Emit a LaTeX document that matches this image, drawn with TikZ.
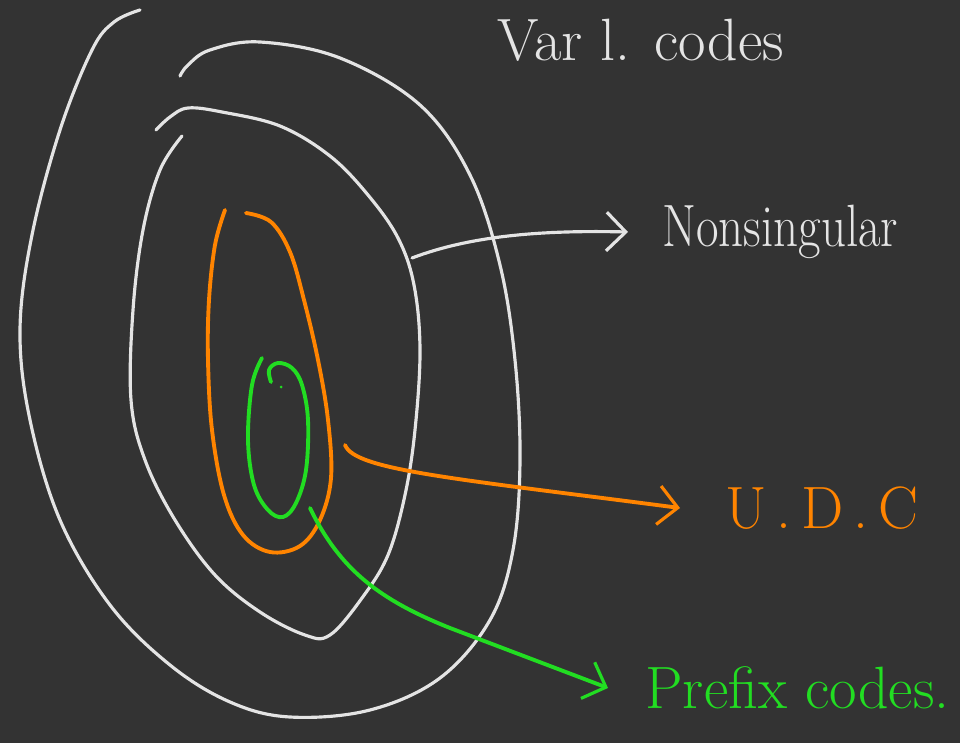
\documentclass[tikz,border=0pt]{standalone}
\usetikzlibrary{arrows.meta}
\definecolor{bg}{HTML}{333333}
\definecolor{chalk}{HTML}{E4E4E4}
\definecolor{org}{HTML}{FF8400}
\definecolor{grn}{HTML}{22DD22}
\tikzset{
  stroke/.style={line width=1.8pt, line cap=round, line join=round},
  thick stroke/.style={line width=2.2pt, line cap=round, line join=round},
  label/.style={font=\fontsize{34}{40}\selectfont, inner sep=0pt, anchor=west},
  tip/.style={-{Straight Barb[length=11pt,width=22pt,line width=1.8pt]}}
}
\begin{document}
\begin{tikzpicture}[x=0.02cm,y=-0.02cm]
\fill[bg] (0,0) rectangle (960,743);
\useasboundingbox (0,0) rectangle (960,743);
% outer white
\draw[stroke,chalk] plot[smooth,tension=0.6] coordinates{
 (140,10) (114,22) (92,50) (60,130) (32,235) (20,330) (30,420) (60,520) (110,605)
 (170,665) (230,702) (290,717) (370,710) (440,678) (490,620) (513,550) (520,460)
 (515,360) (500,265) (470,175) (420,105) (340,58) (260,42) (210,50) (188,65) (180,76)};
% middle white
\draw[stroke,chalk] plot[smooth,tension=0.6] coordinates{
 (182,136) (160,170) (143,230) (133,310) (131,400) (145,460) (175,520) (215,575)
 (260,612) (305,635) (330,635) (362,598) (388,555) (405,495) (415,430) (420,350)
 (414,285) (398,238) (368,195) (330,156) (280,126) (222,112) (188,108) (170,117) (156,130)};
\coordinate (ns) at (412,258);
% orange
\draw[thick stroke,org] plot[smooth,tension=0.6] coordinates{
 (225,210) (215,245) (209,300) (208,360) (212,430) (224,495) (243,535) (270,552)
 (300,546) (320,520) (331,478) (328,420) (318,360) (304,300) (290,252) (271,222) (246,213)};
\coordinate (udc) at (345,445);
% green
\draw[thick stroke,grn] plot[smooth,tension=0.6] coordinates{
 (262,358) (252,385) (248,440) (254,485) (268,510) (283,517) (296,503) (306,470)
 (308,420) (302,385) (292,368) (278,363) (269,370) (271,382)};
\fill[grn] (281,387) circle (1.5);
\coordinate (pc) at (310,508);
% labels
\node[label,chalk] (title) at (497,40) {Var l. codes};
\node[label,chalk,xscale=0.82] (nsl) at (662,232) {Nonsingular};
\node[label,org] (udcl) at (725,508) {U\,.\,D\,.\,C};
\node[label,grn] (pcl) at (645,688) {Prefix codes.};
% connectors
\draw[stroke,chalk,tip] (ns) .. controls (470,236) and (540,230) .. ([xshift=-34*0.02cm]nsl.west);
\draw[thick stroke,org,tip] (udc) .. controls (355,470) and (450,478) .. ([xshift=-45*0.02cm]udcl.west);
\draw[thick stroke,grn,tip] (pc) .. controls (340,570) and (380,600) .. (450,628) -- ([xshift=-37*0.02cm]pcl.west);
\end{tikzpicture}
\end{document}
